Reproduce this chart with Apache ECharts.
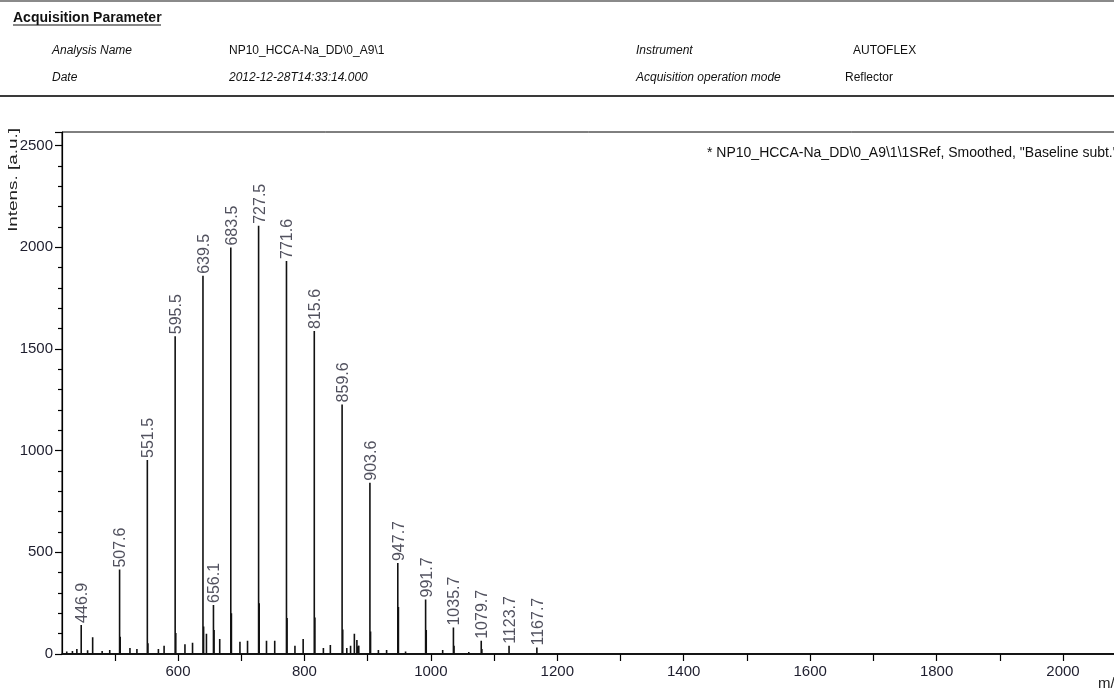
<!DOCTYPE html>
<html>
<head>
<meta charset="utf-8">
<script src="https://cdn.jsdelivr.net/npm/echarts@6/dist/echarts.min.js"></script>
<style>
  html, body { margin: 0; padding: 0; background: #fff; }
  #chart { width: 1114px; height: 692px; }
</style>
</head>
<body>
<div id="chart"></div>
<script>
// Labelled peaks of the MALDI spectrum (m/z and intensity in a.u.)
const labeledMz  = [446.9, 507.6, 551.5, 595.5, 639.5, 656.1, 683.5, 727.5, 771.6, 815.6, 859.6, 903.6, 947.7, 991.7, 1035.7, 1079.7, 1123.7, 1167.7];
const labeledInt = [143, 415, 954, 1562, 1859, 241, 1998, 2105, 1932, 1588, 1227, 842, 447, 268, 130, 65, 40, 32];

// Unlabelled minor peaks (isotopes, adducts, noise)
const minorMz  = [424, 433, 440, 457, 465, 480, 492, 508.6, 524, 535, 552.5, 569, 578, 596.5, 611, 623, 640.5, 645, 657.1, 666, 684.5, 698, 710, 728.5, 740, 753, 772.6, 785, 798, 816.6, 830, 841, 860.6, 867, 873, 879, 883, 886, 904.6, 917, 930, 948.7, 960, 992.7, 1018.7, 1036.7, 1060, 1080.7, 1100, 1150, 1200, 1250];
const minorInt = [12, 15, 25, 18, 82, 15, 20, 85, 30, 25, 53, 24, 40, 103, 48, 55, 135, 100, 118, 74, 200, 60, 65, 250, 65, 65, 177, 40, 74, 180, 30, 44, 121, 30, 41, 100, 69, 41, 110, 20, 20, 231, 12, 118, 20, 40, 10, 25, 8, 6, 5, 5];

// Axis ticks and labels
const xTickValues  = [500, 600, 700, 800, 900, 1000, 1100, 1200, 1300, 1400, 1500, 1600, 1700, 1800, 1900, 2000];
const xLabelValues = [600, 800, 1000, 1200, 1400, 1600, 1800, 2000];
const xMin = 416.5, xMax = 2100;
const yMin = 0, yMax = 2566, yStep = 500;

// Header texts
const headerTitle = 'Acquisition Parameter';
const headerRows = [
  ['Analysis Name', 'NP10_HCCA-Na_DD\\0_A9\\1', 'Instrument', 'AUTOFLEX'],
  ['Date', '2012-12-28T14:33:14.000', 'Acquisition operation mode', 'Reflector']
];
const spectrumCaption = '* NP10_HCCA-Na_DD\\0_A9\\1\\1SRef, Smoothed, "Baseline subt."';
const yAxisTitle = 'Intens. [a.u.]';
const xAxisTitle = 'm/z';

// Build the stick spectrum: every peak is a vertical stroke rising from the baseline
const allPeaks = labeledMz.map((m, i) => [m, labeledInt[i]])
  .concat(minorMz.map((m, i) => [m, minorInt[i]]))
  .sort((a, b) => a[0] - b[0]);
const stickData = [[xMin, 0]];
allPeaks.forEach(([m, h]) => { stickData.push([m, 0], [m, h], [m, 0]); });
stickData.push([xMax, 0]);

const gridLeft = 62, gridTop = 132, gridHeight = 522;
const pxPerMz = 885 / 1400;
const gridWidth = (xMax - xMin) * pxPerMz;

const sans = "'Liberation Sans', Arial, sans-serif";

const chart = echarts.init(document.getElementById('chart'), null, { renderer: 'canvas' });

const graphics = [
  { type: 'line', shape: { x1: 0, y1: 1, x2: 1114, y2: 1 }, style: { stroke: '#8a8a8a', lineWidth: 2 } },
  { type: 'line', shape: { x1: 0, y1: 96, x2: 1114, y2: 96 }, style: { stroke: '#3a3a3a', lineWidth: 2 } },
  { type: 'text', x: 13, y: 18, style: { text: headerTitle, font: 'bold 14px ' + sans, fill: '#111', textVerticalAlign: 'middle' } },
  { type: 'line', shape: { x1: 13, y1: 25, x2: 161, y2: 25 }, style: { stroke: '#111', lineWidth: 1.2 } },
  { type: 'text', x: 707, y: 153, style: { text: spectrumCaption, font: '14px ' + sans, fill: '#111', textVerticalAlign: 'middle' } },
  { type: 'text', x: 13, y: 180, rotation: Math.PI / 2, scaleX: 1.45,
    style: { text: yAxisTitle, font: '13px ' + sans, fill: '#222', textAlign: 'center', textVerticalAlign: 'middle' } },
  { type: 'text', x: 1098, y: 684, style: { text: xAxisTitle, font: '15px ' + sans, fill: '#222', textVerticalAlign: 'middle' } }
];
const colX = [52, 229, 636, 845];
const rowY = [51, 78];
headerRows.forEach((row, r) => {
  row.forEach((txt, c) => {
    const italic = (c === 0 || c === 2 || (r === 1 && c === 1));
    const x = (r === 0 && c === 3) ? 853 : colX[c];
    graphics.push({ type: 'text', x: x, y: rowY[r],
      style: { text: txt, font: (italic ? 'italic ' : '') + '12px ' + sans, fill: '#111', textVerticalAlign: 'middle' } });
  });
});

const plain = v => String(v);

const option = {
  animation: false,
  backgroundColor: '#fff',
  grid: { left: gridLeft, top: gridTop, width: gridWidth, height: gridHeight, show: true, borderColor: '#000', borderWidth: 1,
          containLabel: false, outerBoundsMode: 'none' },
  xAxis: {
    type: 'value', min: xMin, max: xMax,
    axisLine: { show: true, onZero: false, lineStyle: { color: '#000', width: 1.5 } },
    axisTick: { show: true, length: 7, customValues: xTickValues, lineStyle: { color: '#000', width: 1.2 } },
    axisLabel: { show: true, customValues: xLabelValues, margin: 10, fontSize: 15, fontFamily: sans, color: '#1e1e2e', formatter: plain },
    splitLine: { show: false }
  },
  yAxis: {
    type: 'value', min: yMin, max: yMax, interval: yStep,
    axisLine: { show: true, lineStyle: { color: '#000', width: 1.2 } },
    axisTick: { show: true, length: 7, lineStyle: { color: '#000', width: 1.2 } },
    minorTick: { show: true, splitNumber: 5, length: 4, lineStyle: { color: '#000', width: 1.2 } },
    axisLabel: { show: true, margin: 9, fontSize: 15, fontFamily: sans, color: '#1e1e2e', formatter: plain },
    splitLine: { show: false },
    minorSplitLine: { show: false }
  },
  series: [
    {
      type: 'line', data: stickData, showSymbol: false, symbol: 'none',
      lineStyle: { color: '#111', width: 1.6 }, silent: true, z: 2
    },
    {
      type: 'scatter', data: labeledMz.map((m, i) => [m, labeledInt[i]]),
      symbolSize: 2, itemStyle: { color: 'rgba(0,0,0,0)' }, silent: true, z: 3,
      label: {
        show: true, position: 'top', distance: 1, rotate: 90, align: 'left', verticalAlign: 'middle',
        offset: [0, 1.5],
        fontSize: 16, fontFamily: sans, color: '#262636',
        formatter: p => p.value[0].toFixed(1)
      }
    }
  ],
  graphic: graphics
};
chart.setOption(option);
</script>
</body>
</html>
